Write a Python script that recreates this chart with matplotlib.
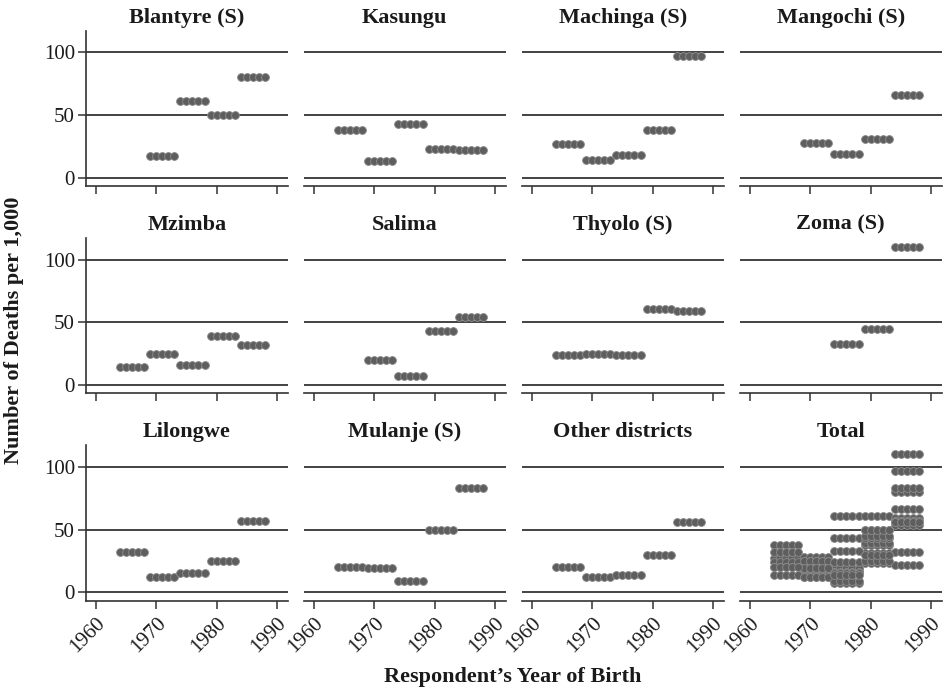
import numpy as np
import matplotlib
matplotlib.use("Agg")
import matplotlib.pyplot as plt

plt.rcParams['font.family'] = ['Liberation Serif', 'DejaVu Serif']

# Five-year birth cohorts; each cohort contributes one dot per birth year
cohort_starts = [1964, 1969, 1974, 1979, 1984]
cohort_len = 5

districts = ["Blantyre (S)", "Kasungu", "Machinga (S)", "Mangochi (S)",
             "Mzimba", "Salima", "Thyolo (S)", "Zoma (S)",
             "Lilongwe", "Mulanje (S)", "Other districts"]

# Deaths per 1,000 by cohort (None = no estimate)
blantyre = [None, 17, 61, 50, 80]
kasungu = [38, 13, 43, 23, 22]
machinga = [27, 14, 18, 38, 97]
mangochi = [None, 28, 19, 31, 66]
mzimba = [14, 25, 16, 39, 32]
salima = [None, 20, 7, 43, 54]
thyolo = [24, 25, 24, 61, 59]
zoma = [None, None, 33, 45, 110]
lilongwe = [32, 12, 15, 25, 57]
mulanje = [20, 19, 9, 50, 83]
other = [20, 12, 14, 30, 56]

values = [blantyre, kasungu, machinga, mangochi, mzimba, salima,
          thyolo, zoma, lilongwe, mulanje, other]

x_ticks = [1960, 1970, 1980, 1990]
y_ticks = [0, 50, 100]


def cohort_points(vals):
    xs, ys = [], []
    for start, v in zip(cohort_starts, vals):
        if v is None:
            continue
        for k in range(cohort_len):
            xs.append(start + k)
            ys.append(v)
    return xs, ys


W, H = 947, 693
fig = plt.figure(figsize=(W / 100, H / 100), dpi=100)

left0, pitch_x, width = 86, 218.0, 201.5
tops = [31, 238.3, 445.5]
height = 155

dot_face = "#5e5e5e"
dot_edge = "#8c8c8c"
line_col = "#222222"

panels = districts + ["Total"]
for i, name in enumerate(panels):
    r, c = divmod(i, 4)
    ax = fig.add_axes([(left0 + c * pitch_x) / W,
                       1 - (tops[r] + height) / H,
                       width / W, height / H])
    ax.set_xlim(1958.36, 1991.75)
    ax.set_ylim(-6.6, 117)
    for yv in y_ticks:
        ax.axhline(yv, color=line_col, lw=1.2, zorder=1)

    if name == "Total":
        for vals in values:
            xs, ys = cohort_points(vals)
            ax.scatter(xs, ys, s=32, c=dot_face, edgecolors=dot_edge,
                       linewidths=0.6, zorder=3)
    else:
        xs, ys = cohort_points(values[i])
        ax.scatter(xs, ys, s=32, c=dot_face, edgecolors=dot_edge,
                   linewidths=0.6, zorder=3)

    ax.set_title(name, fontsize=16, fontweight='bold', pad=6, color="#1a1a1a")

    for s in ["top", "right"]:
        ax.spines[s].set_visible(False)
    ax.spines["bottom"].set_color("#333333")
    ax.spines["bottom"].set_linewidth(1.2)
    ax.spines["left"].set_color("#333333")
    ax.spines["left"].set_linewidth(1.2)

    ax.set_xticks(x_ticks)
    ax.tick_params(axis='x', direction='out', length=6, width=1.1,
                   color="#333333")
    if r == 2:
        ax.set_xticklabels([str(t) for t in x_ticks], rotation=45,
                           ha='right', rotation_mode='anchor', fontsize=15,
                           color="#1a1a1a")
    else:
        ax.set_xticklabels([])

    ax.set_yticks(y_ticks)
    if c == 0:
        ax.tick_params(axis='y', direction='out', length=6, width=1.1,
                       color="#333333", labelsize=15, labelcolor="#1a1a1a",
                       pad=2)
    else:
        ax.spines["left"].set_visible(False)
        ax.tick_params(axis='y', length=0, labelleft=False)

fig.text(513 / W, 1 - 677 / H, "Respondent\u2019s Year of Birth",
         ha='center', va='center', fontsize=16, fontweight='bold',
         color="#1a1a1a")
fig.text(14 / W, 1 - 330 / H, "Number of Deaths per 1,000", rotation=90,
         ha='center', va='center', fontsize=16, fontweight='bold',
         color="#1a1a1a")

fig.savefig("out.png", dpi=100, facecolor="white")
